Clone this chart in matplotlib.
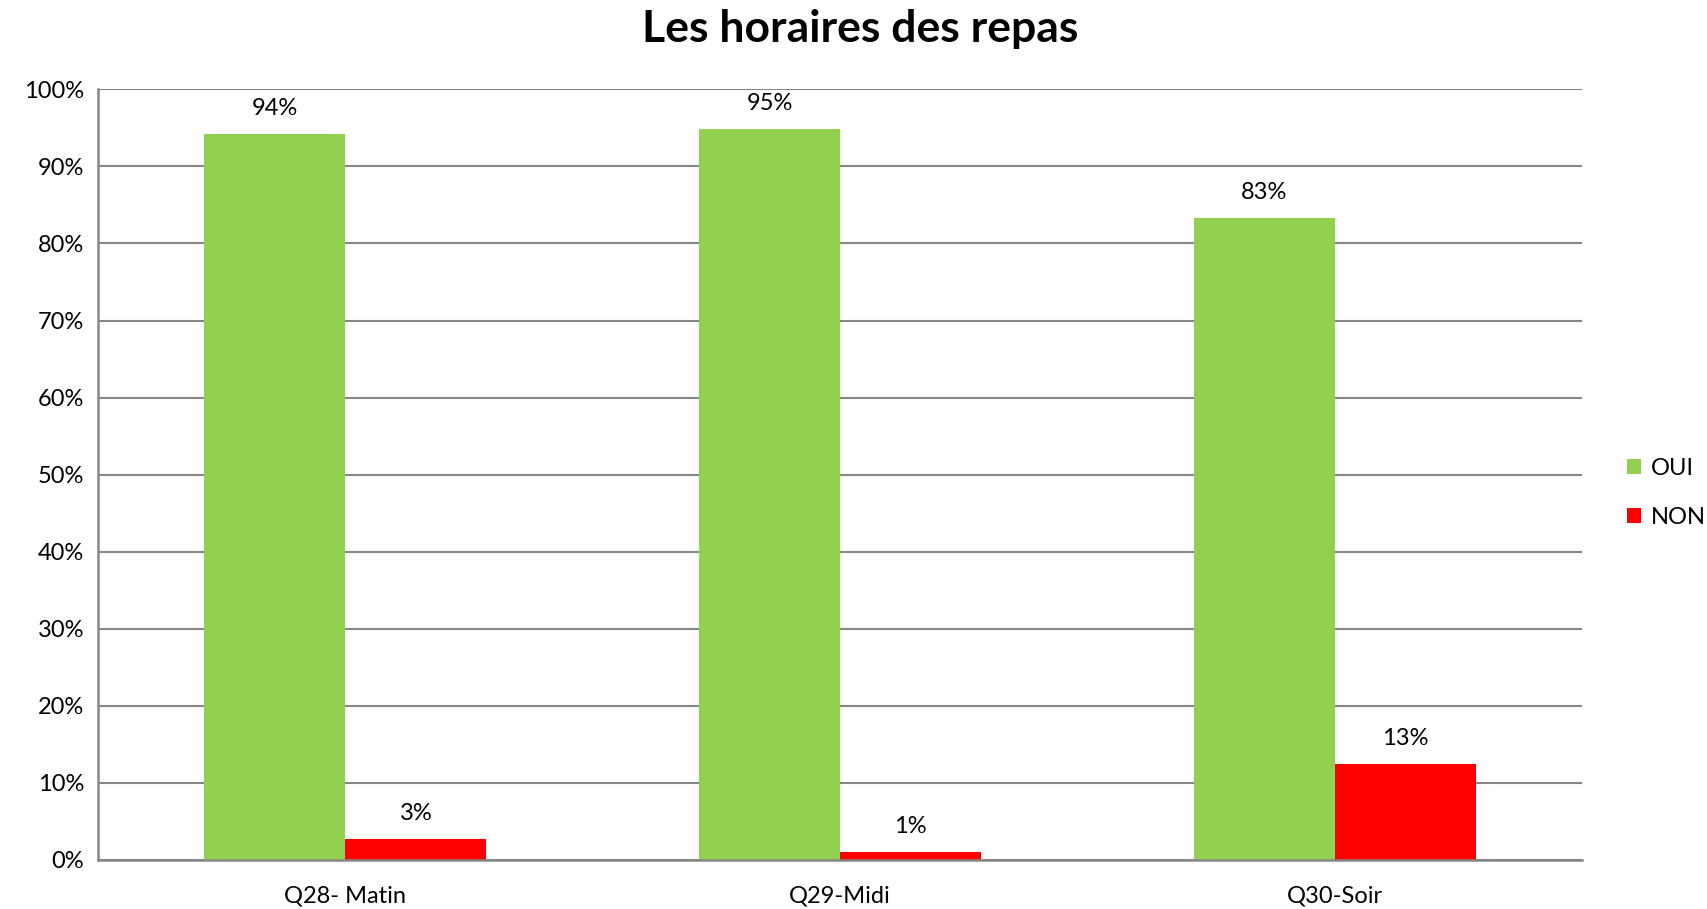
import numpy as np
import matplotlib.pyplot as plt
from matplotlib.ticker import MultipleLocator, PercentFormatter

plt.rcParams['font.family'] = ['Lato', 'DejaVu Sans']

categories = ['Q28- Matin', 'Q29-Midi', 'Q30-Soir']
oui = [94.2, 94.8, 83.3]
non = [2.7, 1.1, 12.5]
oui_labels = ['94%', '95%', '83%']
non_labels = ['3%', '1%', '13%']

green = '#92D050'
red = '#FF0000'
grid_c = '#868686'

fig = plt.figure(figsize=(17.08, 9.09), dpi=100)
ax = fig.add_axes([98/1708, 1 - 860/909, (1582-98)/1708, (860-89.3)/909])

x = np.arange(len(categories))
w = 0.285
b1 = ax.bar(x - w/2, oui, w, color=green, label='OUI', zorder=3)
b2 = ax.bar(x + w/2, non, w, color=red, label='NON', zorder=3)

for bars, labs in ((b1, oui_labels), (b2, non_labels)):
    for rect, lab in zip(bars, labs):
        ax.annotate(lab, (rect.get_x() + rect.get_width()/2, rect.get_height()),
                    xytext=(0, 15), textcoords='offset pixels',
                    ha='center', va='bottom', fontsize=17, color='black')

ax.set_xlim(-0.5, 2.5)
ax.set_ylim(0, 100)
ax.yaxis.set_major_locator(MultipleLocator(10))
ax.yaxis.set_major_formatter(PercentFormatter(decimals=0))
ax.set_xticks(x)
ax.set_xticklabels(categories)
ax.tick_params(axis='both', length=0, labelsize=17, colors='black')
ax.tick_params(axis='x', pad=18)
ax.tick_params(axis='y', pad=10)

ax.grid(axis='y', color=grid_c, lw=1.5, zorder=0)
ax.set_axisbelow(True)
for s in ('top', 'right'):
    ax.spines[s].set_visible(False)
for s in ('left', 'bottom'):
    ax.spines[s].set_color(grid_c)
    ax.spines[s].set_linewidth(1.8)
    ax.spines[s].set_zorder(4)

fig.text(860/1708, 1 - 29/909, 'Les horaires des repas', ha='center', va='center',
         fontsize=32, fontweight='bold')

ax.legend(loc='center left', bbox_to_anchor=(1606/1708, 1 - 493/909),
          bbox_transform=fig.transFigure, frameon=False, fontsize=17,
          handlelength=0.6, handleheight=0.6, handletextpad=0.4, labelspacing=1.2)

fig.savefig('out.png', dpi=100)
